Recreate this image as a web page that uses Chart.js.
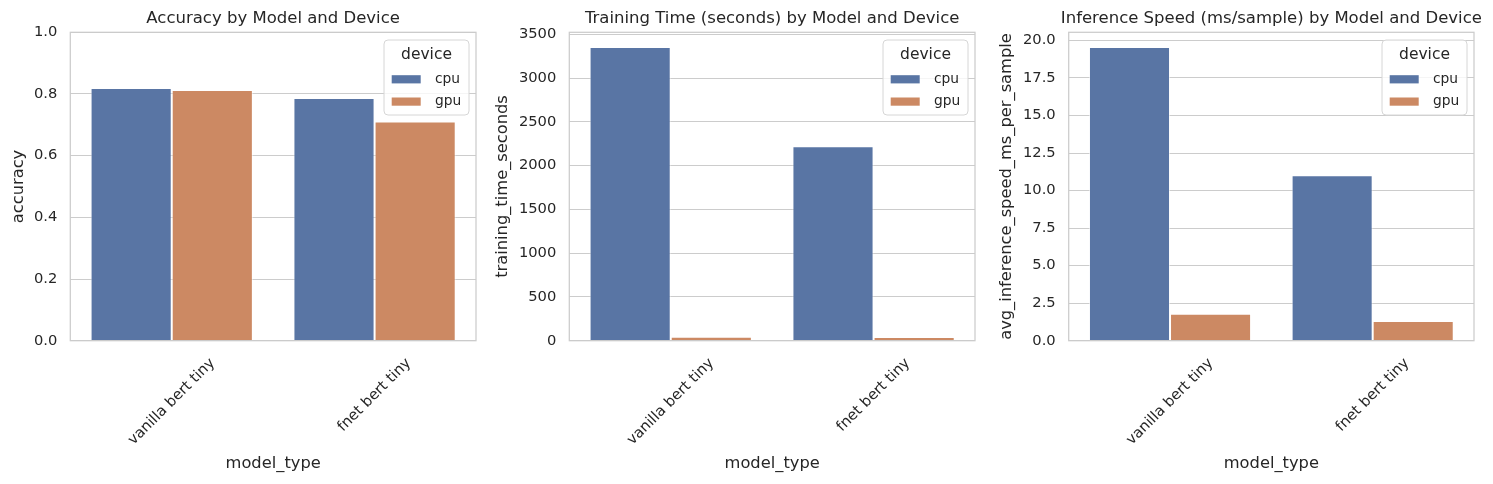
<!DOCTYPE html>
<html><head><meta charset="utf-8">
<script src="https://cdn.jsdelivr.net/npm/chart.js@4.4.1/dist/chart.umd.min.js"></script>
<style>
html,body{margin:0;padding:0;background:#fff;width:1493px;height:484px;overflow:hidden;}
.p{position:absolute;top:0;height:484px;}
</style></head><body>
<div class="p" style="left:0;width:490px"><canvas id="c1"></canvas></div>
<div class="p" style="left:490px;width:495px"><canvas id="c2"></canvas></div>
<div class="p" style="left:985px;width:508px"><canvas id="c3"></canvas></div>
<script>
// ---- data ----
const categories = ['vanilla bert tiny', 'fnet bert tiny'];
const devices = ['cpu', 'gpu'];
const accuracyCpu = [0.819, 0.787];
const accuracyGpu = [0.813, 0.711];
const trainTimeCpu = [3356, 2223];
const trainTimeGpu = [45, 42];
const inferSpeedCpu = [19.56, 11.02];
const inferSpeedGpu = [1.79, 1.32];
const accuracyTicks = [0, 0.2, 0.4, 0.6, 0.8, 1.0];
const trainTimeTicks = [0, 500, 1000, 1500, 2000, 2500, 3000, 3500];
const inferSpeedTicks = [0, 2.5, 5.0, 7.5, 10.0, 12.5, 15.0, 17.5, 20.0];
const panelTitles = [
  'Accuracy by Model and Device',
  'Training Time (seconds) by Model and Device',
  'Inference Speed (ms/sample) by Model and Device'
];
const yTitles = ['accuracy', 'training_time_seconds', 'avg_inference_speed_ms_per_sample'];
const xTitle = 'model_type';
const legendTitle = 'device';

// ---- style ----
const FONT = "'DejaVu Sans', sans-serif";
const TXT = '#262626';
const GRID = '#cccccc';
const COLORS = ['#5975a4', '#cc8963'];
Chart.defaults.font.family = FONT;
Chart.defaults.color = TXT;
Chart.defaults.animation = false;

const panelPlugin = {
  id: 'panel',
  beforeDraw(chart) {
    const xs = chart.scales.x;
    const items = xs.getLabelItems();
    const ctx = chart.ctx;
    items.forEach(it => {
      if (it._shifted) return;
      ctx.save();
      ctx.font = it.font.string;
      const w = ctx.measureText(it.label).width;
      ctx.restore();
      it.options.translation[0] += (w * Math.SQRT1_2) / 2;
      it._shifted = true;
    });
  },
  afterDatasetsDraw(chart) {
    const ca = chart.chartArea, ctx = chart.ctx;
    ctx.save();
    ctx.strokeStyle = GRID;
    ctx.lineWidth = 1.25;
    ctx.strokeRect(ca.left, ca.top, ca.right - ca.left, ca.bottom - ca.top);
    ctx.restore();
  },
  afterDraw(chart) {
    const ca = chart.chartArea, ctx = chart.ctx;
    const o = chart.options.plugins.panel;
    ctx.save();
    // title
    ctx.fillStyle = TXT;
    ctx.font = '16.5px ' + FONT;
    ctx.textAlign = 'center';
    ctx.textBaseline = 'middle';
    ctx.fillText(o.title, (ca.left + ca.right) / 2, 18.3);
    // legend
    const bw = 85, bh = 75;
    const bx = ca.right - 7 - bw, by = ca.top + 7.7;
    const r = 4;
    ctx.beginPath();
    ctx.moveTo(bx + r, by);
    ctx.lineTo(bx + bw - r, by);
    ctx.arcTo(bx + bw, by, bx + bw, by + r, r);
    ctx.lineTo(bx + bw, by + bh - r);
    ctx.arcTo(bx + bw, by + bh, bx + bw - r, by + bh, r);
    ctx.lineTo(bx + r, by + bh);
    ctx.arcTo(bx, by + bh, bx, by + bh - r, r);
    ctx.lineTo(bx, by + r);
    ctx.arcTo(bx, by, bx + r, by, r);
    ctx.closePath();
    ctx.fillStyle = 'rgba(255,255,255,0.8)';
    ctx.fill();
    ctx.strokeStyle = '#d6d6d6';
    ctx.lineWidth = 1;
    ctx.stroke();
    ctx.fillStyle = TXT;
    ctx.font = '15.5px ' + FONT;
    ctx.textAlign = 'center';
    ctx.fillText(legendTitle, bx + bw / 2, by + 15);
    ctx.font = '13.8px ' + FONT;
    ctx.textAlign = 'left';
    chart.data.datasets.forEach((ds, i) => {
      const cy = by + 39.3 + i * 22.3;
      ctx.fillStyle = ds.backgroundColor;
      ctx.fillRect(bx + 7.7, cy - 4.1, 29, 8.2);
      ctx.fillStyle = TXT;
      ctx.fillText(ds.label, bx + 51, cy);
    });
    ctx.restore();
  }
};

function makeChart(id, title, yTitle, cpu, gpu, yMax, tickValues, digits, yWidth, yTitlePad, rightPad) {
  return new Chart(document.getElementById(id), {
    type: 'bar',
    data: {
      labels: categories,
      datasets: [
        { label: devices[0], data: cpu, backgroundColor: COLORS[0], borderColor: 'rgba(255,255,255,0.55)', borderWidth: 1,
          categoryPercentage: 0.8, barPercentage: 1.0 },
        { label: devices[1], data: gpu, backgroundColor: COLORS[1], borderColor: 'rgba(255,255,255,0.55)', borderWidth: 1,
          categoryPercentage: 0.8, barPercentage: 1.0 }
      ]
    },
    options: {
      responsive: true,
      maintainAspectRatio: false,
      layout: { padding: { top: 32.3, right: rightPad, bottom: 0, left: 0 } },
      plugins: {
        legend: { display: false },
        title: { display: false },
        tooltip: { enabled: false },
        panel: { title: title }
      },
      scales: {
        x: {
          grid: { display: false, drawTicks: false },
          border: { display: false },
          ticks: { minRotation: 45, maxRotation: 45, autoSkip: false, padding: 14, font: { size: 14.7 }, color: TXT },
          title: { display: true, text: xTitle, font: { size: 16.3 }, color: TXT, padding: { top: 0, bottom: 10.8 } },
          afterFit(s) { s.height = 143.3; }
        },
        y: {
          min: 0, max: yMax,
          grid: { color: GRID, lineWidth: 1, drawTicks: false },
          border: { display: false },
          ticks: { padding: 13, font: { size: 14.7 }, color: TXT, autoSkip: false,
                   callback: v => Number(v).toFixed(digits) },
          afterBuildTicks(s) { s.ticks = tickValues.map(v => ({ value: v })); },
          title: { display: true, text: yTitle, font: { size: 16.3 }, color: TXT, padding: { top: yTitlePad, bottom: 0 } },
          afterFit(s) { s.width = yWidth; }
        }
      }
    },
    plugins: [panelPlugin]
  });
}

makeChart('c1', panelTitles[0], yTitles[0], accuracyCpu, accuracyGpu, 1.0, accuracyTicks, 1, 70.3, 9.4, 14);
makeChart('c2', panelTitles[1], yTitles[1], trainTimeCpu, trainTimeGpu, 3524, trainTimeTicks, 0, 79.3, 2.8, 10);
makeChart('c3', panelTitles[2], yTitles[2], inferSpeedCpu, inferSpeedGpu, 20.54, inferSpeedTicks, 1, 83.7, 11.8, 19);
</script>
</body></html>
